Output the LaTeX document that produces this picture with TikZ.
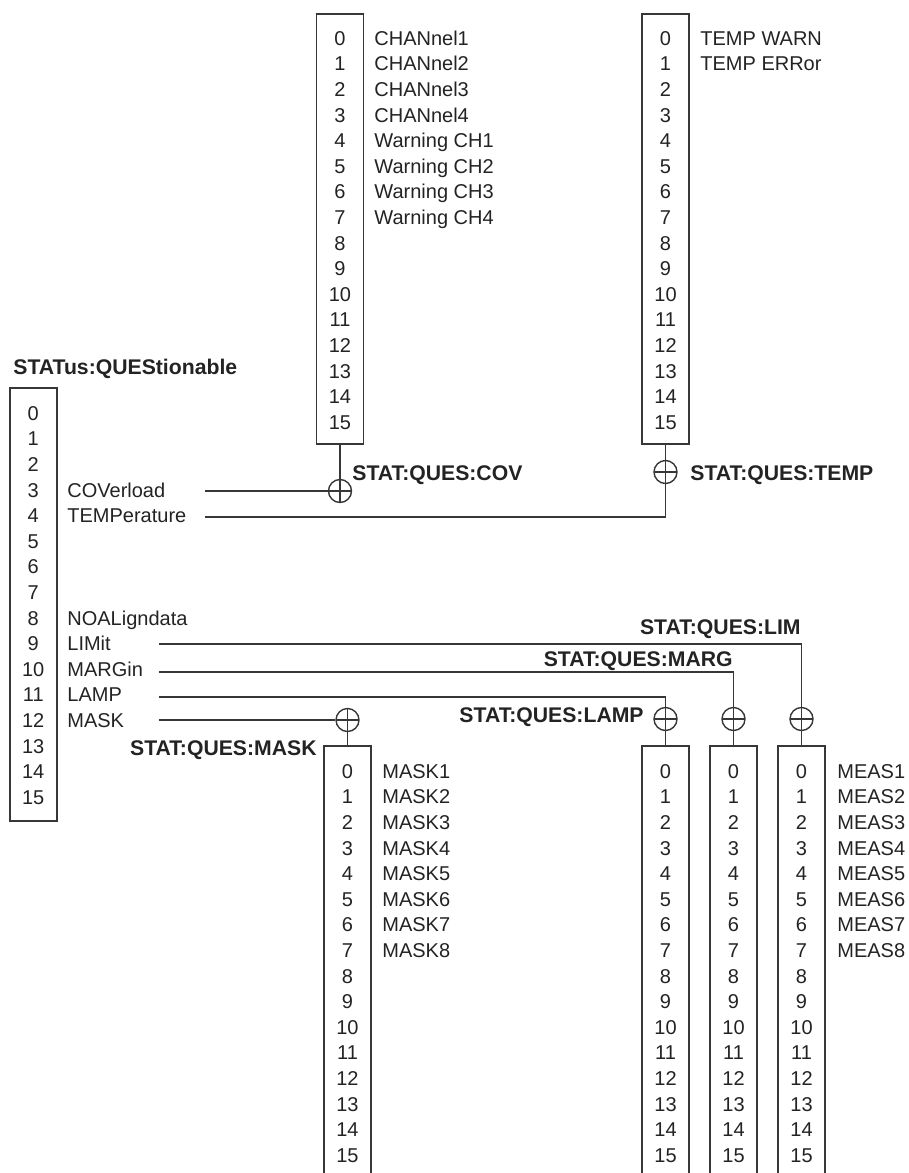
\documentclass[tikz,border=0pt]{standalone}
\usepackage{fontspec}
\setmainfont{Liberation Sans}
\usepackage{tikz}
\definecolor{RegLine}{RGB}{55,55,55}
\definecolor{RegText}{RGB}{35,35,35}

\begin{document}
\begin{tikzpicture}[x=0.5pt, y=-0.5pt,
    regbox/.style={rectangle, draw=RegLine, line width=0.75pt, minimum width=23.5pt,
                   inner sep=0pt},
    bit/.style={font=\fontsize{10}{12}\selectfont, text=RegText, inner sep=0pt,
                text height=7.2pt, text depth=0pt},
    reg/.style={font=\fontsize{10.6}{12}\selectfont\bfseries, text=RegText, inner sep=0pt,
                text height=7.6pt, text depth=0pt},
    sumpt/.style={circle, draw=RegLine, line width=0.7pt, minimum size=11.5pt, inner sep=0pt,
                  path picture={\draw[RegLine, line width=0.7pt]
                    (path picture bounding box.north) -- (path picture bounding box.south)
                    (path picture bounding box.west) -- (path picture bounding box.east);}},
    wire/.style={draw=RegLine, line width=0.7pt}
  ]
    \useasboundingbox (0,0) rectangle (909,1173);
    \clip (0,0) rectangle (909,1173);

    % registers
    \node[regbox, minimum height=216.5pt] (ques) at (33.25,604.5) {};
    \node[regbox, minimum height=215pt]   (chan) at (340,229)     {};
    \node[regbox, minimum height=215pt]   (temp) at (665.5,229)   {};
    \node[regbox, minimum height=227pt]   (mask) at (347.5,973)   {};
    \node[regbox, minimum height=227pt]   (lamp) at (665.5,973)   {};
    \node[regbox, minimum height=227pt]   (marg) at (733.5,973)   {};
    \node[regbox, minimum height=227pt]   (lim)  at (801.5,973)   {};

    \foreach \k in {0,...,15}{
      \node[bit] (q\k)  at (33.25, {413+25.6*\k}) {\k};
      \node[bit] (c\k)  at (340,   {38+25.6*\k})  {\k};
      \node[bit] (t\k)  at (665.5, {38+25.6*\k})  {\k};
      \node[bit] (m\k)  at (347.5, {771+25.6*\k}) {\k};
      \node[bit] (la\k) at (665.5, {771+25.6*\k}) {\k};
      \node[bit] (ma\k) at (733.5, {771+25.6*\k}) {\k};
      \node[bit] (li\k) at (801.5, {771+25.6*\k}) {\k};
    }

    % bit names
    \foreach \k/\t in {3/COVerload, 4/TEMPerature, 8/NOALigndata, 9/LIMit,
                       10/MARGin, 11/LAMP, 12/MASK}{
      \node[bit, anchor=west] (qn\k) at (67, {413+25.6*\k}) {\t};
    }
    \foreach \k/\t in {0/CHANnel1, 1/CHANnel2, 2/CHANnel3, 3/CHANnel4,
                       4/Warning CH1, 5/Warning CH2, 6/Warning CH3, 7/Warning CH4}{
      \node[bit, anchor=west] (cn\k) at (374, {38+25.6*\k}) {\t};
    }
    \node[bit, anchor=west] (tn0) at (700, 38)   {TEMP WARN};
    \node[bit, anchor=west] (tn1) at (700, 63.6) {TEMP ERRor};
    \foreach \k in {0,...,7}{
      \pgfmathtruncatemacro{\n}{\k+1}
      \node[bit, anchor=west] (mn\k) at (382, {771+25.6*\k}) {MASK\n};
      \node[bit, anchor=west] (ln\k) at (837, {771+25.6*\k}) {MEAS\n};
    }

    % register names
    \node[reg, anchor=west] (quesname) at (13,367)  {STATus:QUEStionable};
    \node[reg, anchor=west] (covname)  at (352,473) {STAT:QUES:COV};
    \node[reg, anchor=west] (tempname) at (690,473) {STAT:QUES:TEMP};
    \node[reg, anchor=east] (limname)  at (801,627) {STAT:QUES:LIM};
    \node[reg, anchor=east] (margname) at (733,659) {STAT:QUES:MARG};
    \node[reg, anchor=east] (lampname) at (644,715) {STAT:QUES:LAMP};
    \node[reg, anchor=east] (maskname) at (317,748) {STAT:QUES:MASK};

    % summing points
    \node[sumpt] (covsum)  at (340,491)   {};
    \node[sumpt] (tempsum) at (665.5,472) {};
    \node[sumpt] (masksum) at (347.5,720) {};
    \node[sumpt] (lampsum) at (665.5,719) {};
    \node[sumpt] (margsum) at (733.5,719) {};
    \node[sumpt] (limsum)  at (801.5,719) {};

    \coordinate (covin)   at (205,491);
    \coordinate (tempin)  at (205,517);
    \coordinate (limin)   at (159,644);
    \coordinate (margsrc) at (159,672);
    \coordinate (lampin)  at (159,697);
    \coordinate (maskin)  at (159,720);

    \draw[wire] (chan.south) -- (covsum.north);
    \draw[wire] (covin) -- (covsum.west);
    \draw[wire] (temp.south) -- (tempsum.north);
    \draw[wire] (tempin) -| (tempsum.south);

    \draw[wire] (limin)   -| (limsum.north);
    \draw[wire] (margsrc) -| (margsum.north);
    \draw[wire] (lampin)  -| (lampsum.north);
    \draw[wire] (maskin)  -- (masksum.west);

    \draw[wire] (masksum.south) -- (mask.north);
    \draw[wire] (lampsum.south) -- (lamp.north);
    \draw[wire] (margsum.south) -- (marg.north);
    \draw[wire] (limsum.south)  -- (lim.north);
\end{tikzpicture}
\end{document}
